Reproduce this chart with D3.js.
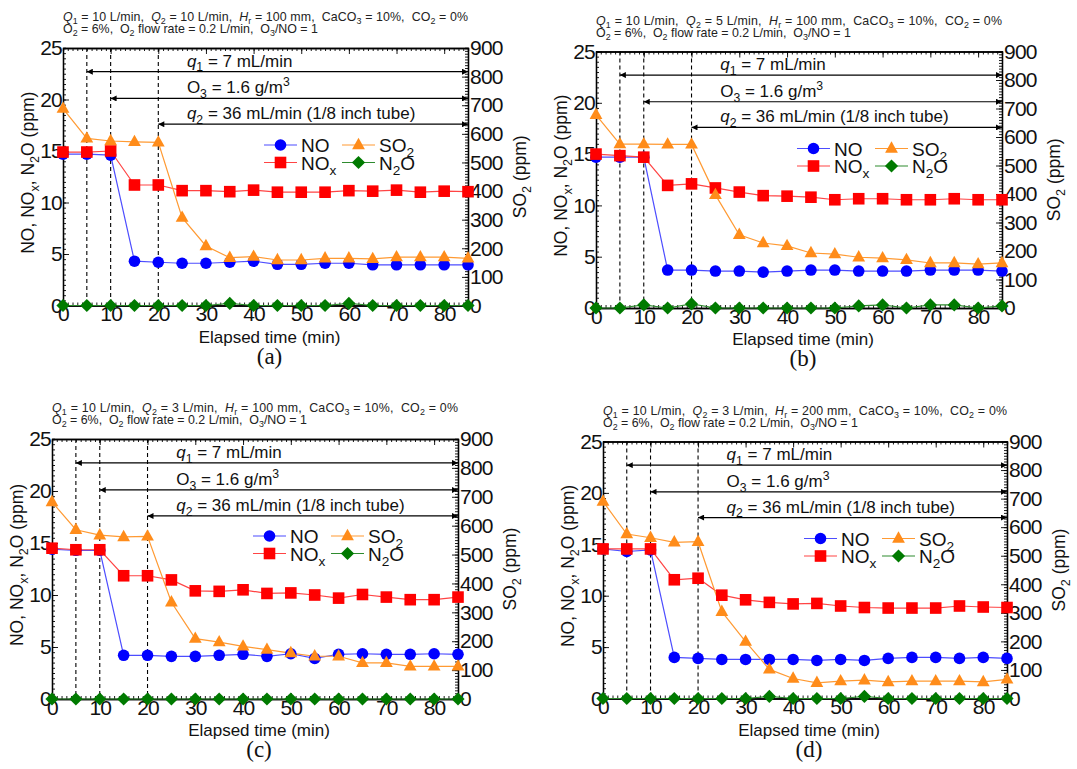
<!DOCTYPE html>
<html>
<head>
<meta charset="utf-8">
<script src="https://cdn.jsdelivr.net/npm/d3@7"></script>
<style>
  body { margin: 0; background: #fff; }
  svg { font-family: "Liberation Sans", Arial, sans-serif; }
  text { white-space: pre; }
</style>
</head>
<body>
<div id="chart"></div>
<script>
// elapsed time (min)
var times = [0, 5, 10, 15, 20, 25, 30, 35, 40, 45, 50, 55, 60, 65, 70, 75, 80, 85];

// panel (a)
var noA  = [14.7, 14.7, 14.6, 4.3, 4.2, 4.1, 4.1, 4.2, 4.3, 4.0, 4.0, 4.1, 4.1, 3.95, 3.95, 3.95, 3.95, 3.95];
var noxA = [14.9, 14.9, 15.0, 11.7, 11.7, 11.15, 11.15, 11.05, 11.2, 11.0, 11.0, 11.0, 11.15, 11.1, 11.2, 11.0, 11.1, 11.05];
var so2A = [688, 584, 575, 572, 570, 307, 208, 167, 171, 159, 159, 165, 165, 163, 169, 169, 169, 165];
var n2oA = [0, 0, 0, 0, 0, 0, 0, 0.2, 0, 0, 0, 0, 0.2, 0, 0, 0, 0, 0];

// panel (b)
var noB  = [14.7, 14.7, 14.7, 3.7, 3.7, 3.6, 3.6, 3.5, 3.6, 3.7, 3.7, 3.6, 3.6, 3.6, 3.7, 3.7, 3.7, 3.6];
var noxB = [15.0, 14.85, 14.7, 11.95, 12.1, 11.7, 11.3, 10.95, 10.9, 10.8, 10.55, 10.65, 10.65, 10.55, 10.55, 10.65, 10.55, 10.55];
var so2B = [678, 575, 575, 574, 574, 397, 257, 228, 218, 193, 189, 178, 175, 169, 158, 158, 154, 158];
var n2oB = [0, 0, 0.3, 0, 0.4, 0, 0, 0, 0, 0, 0, 0.2, 0.3, 0, 0.3, 0.3, 0, 0.2];

// panel (c)
var noC  = [14.4, 14.3, 14.3, 4.2, 4.2, 4.1, 4.1, 4.2, 4.3, 4.1, 4.35, 3.9, 4.3, 4.35, 4.3, 4.3, 4.35, 4.3];
var noxC = [14.5, 14.35, 14.35, 11.85, 11.85, 11.45, 10.4, 10.35, 10.5, 10.15, 10.2, 10.0, 9.7, 10.05, 9.8, 9.55, 9.55, 9.8];
var so2C = [682, 586, 567, 561, 563, 335, 209, 197, 182, 171, 159, 148, 148, 125, 125, 113, 113, 113];
var n2oC = [0, 0, 0, 0, 0, 0, 0, 0, 0, 0, 0, 0, 0, 0, 0, 0, 0, 0];

// panel (d)
var noD  = [14.55, 14.3, 14.45, 4.0, 3.9, 3.8, 3.8, 3.8, 3.8, 3.7, 3.8, 3.7, 3.9, 4.0, 4.0, 3.9, 4.0, 3.9];
var noxD = [14.55, 14.55, 14.55, 11.55, 11.7, 10.05, 9.6, 9.35, 9.2, 9.25, 9.0, 8.85, 8.8, 8.8, 8.8, 9.0, 8.9, 8.85];
var so2D = [690, 576, 563, 547, 549, 304, 199, 102, 70, 55, 61, 64, 58, 61, 61, 61, 58, 67];
var n2oD = [0, 0, 0, 0, 0, 0, 0, 0.2, 0, 0, 0, 0.2, 0, 0, 0, 0, 0, 0];

var panelLabels = ["(a)", "(b)", "(c)", "(d)"];
var headerLine1 = [
    "*Q*_{1} = 10 L/min,  *Q*_{2} = 10 L/min,  *H*_{r} = 100 mm,  CaCO_{3} = 10%,  CO_{2} = 0%",
    "*Q*_{1} = 10 L/min,  *Q*_{2} = 5 L/min,  *H*_{r} = 100 mm,  CaCO_{3} = 10%,  CO_{2} = 0%",
    "*Q*_{1} = 10 L/min,  *Q*_{2} = 3 L/min,  *H*_{r} = 100 mm,  CaCO_{3} = 10%,  CO_{2} = 0%",
    "*Q*_{1} = 10 L/min,  *Q*_{2} = 3 L/min,  *H*_{r} = 200 mm,  CaCO_{3} = 10%,  CO_{2} = 0%"
];
var headerLine2 = "O_{2} = 6%,  O_{2} flow rate = 0.2 L/min,  O_{3}/NO = 1";

// flow annotations: start time, arrow level (left axis ppm), label
var arrowStarts = [5, 10, 20];
var arrowLevels = [22.7, 20.1, 17.6];
var arrowLabels = ["*q*_{1} = 7 mL/min", "O_{3} = 1.6 g/m^{3}", "*q*_{2} = 36 mL/min (1/8 inch tube)"];

var leftTicks = [0, 5, 10, 15, 20, 25];
var rightTicks = [0, 100, 200, 300, 400, 500, 600, 700, 800, 900];
var timeTicks = [0, 10, 20, 30, 40, 50, 60, 70, 80];

var seriesNames = ["NO", "NO_{x}", "SO_{2}", "N_{2}O"];

var panelData = [
    [noA, noxA, so2A, n2oA],
    [noB, noxB, so2B, n2oB],
    [noC, noxC, so2C, n2oC],
    [noD, noxD, so2D, n2oD]
];

// plot boxes of the four panels
var boxes = [
    { left: 63, top: 48, right: 468, bottom: 305.5 },
    { left: 596, top: 51.5, right: 1002, bottom: 308 },
    { left: 52, top: 439, right: 458, bottom: 699 },
    { left: 603, top: 441.5, right: 1007, bottom: 698.5 }
];

var styles = [
    { marker: "#0000ff", line: "#4d4dff", shape: "circle" },
    { marker: "#ff0000", line: "#ff4444", shape: "square" },
    { marker: "#ff8c1a", line: "#ff9a33", shape: "triangle" },
    { marker: "#007a00", line: "#2e8b2e", shape: "diamond" }
];

var svg = d3.select("#chart").append("svg")
    .attr("width", 1077)
    .attr("height", 769);

svg.append("rect").attr("width", 1077).attr("height", 769).attr("fill", "#fff");

var defs = svg.append("defs");
defs.append("marker")
    .attr("id", "arrowhead")
    .attr("viewBox", "0 0 10 10")
    .attr("refX", 10).attr("refY", 5)
    .attr("markerWidth", 11).attr("markerHeight", 6)
    .attr("markerUnits", "userSpaceOnUse")
    .attr("orient", "auto-start-reverse")
    .append("path")
    .attr("d", "M0,0 L10,5 L0,10 Z")
    .attr("fill", "#000");

// text with *italic*, _{sub} and ^{sup}
function richText(sel, str, size) {
    var parts = str.split(/(\*[^*]+\*|_\{[^}]*\}|\^\{[^}]*\})/).filter(function (s) { return s.length; });
    var shift = 0;
    parts.forEach(function (p) {
        var t = sel.append("tspan");
        var target = 0, fs = size;
        if (p[0] === "*") {
            t.attr("font-style", "italic");
            p = p.slice(1, -1);
        } else if (p[0] === "_") {
            target = 0.28 * size; fs = size * 0.72; p = p.slice(2, -1);
        } else if (p[0] === "^") {
            target = -0.42 * size; fs = size * 0.72; p = p.slice(2, -1);
        }
        t.attr("dy", target - shift).attr("font-size", fs).text(p);
        shift = target;
    });
}

function drawMarker(g, shape, color) {
    if (shape === "circle") {
        g.append("circle").attr("r", 5.8).attr("fill", color);
    } else if (shape === "square") {
        g.append("rect").attr("x", -5.8).attr("y", -5.8).attr("width", 11.6).attr("height", 11.6).attr("fill", color);
    } else if (shape === "triangle") {
        g.append("path").attr("d", "M0,-7.2 L6.4,4.2 L-6.4,4.2 Z").attr("fill", color);
    } else {
        g.append("path").attr("d", "M0,-6.6 L6.6,0 L0,6.6 L-6.6,0 Z").attr("fill", color);
    }
}

function drawPanel(i) {
    var b = boxes[i];
    var w = b.right - b.left, h = b.bottom - b.top;
    var g = svg.append("g").attr("transform", "translate(" + b.left + "," + b.top + ")");

    var x = d3.scaleLinear().domain([0, 85]).range([0, w]);
    var yL = d3.scaleLinear().domain([0, 25]).range([h, 0]);
    var yR = d3.scaleLinear().domain([0, 900]).range([h, 0]);

    // header conditions
    var hdr = g.append("g").attr("fill", "#222");
    richText(hdr.append("text").attr("x", 0).attr("y", -27).attr("textLength", w).attr("lengthAdjust", "spacing"), headerLine1[i], 12.4);
    richText(hdr.append("text").attr("x", 0).attr("y", -15), headerLine2, 12.4);

    // minor ticks
    var minor = g.append("g").attr("class", "minor");
    minor.append("g").call(d3.axisLeft(yL).tickValues(d3.range(0, 25.01, 0.5)).tickSize(-3).tickFormat(""));
    minor.append("g").attr("transform", "translate(" + w + ",0)")
        .call(d3.axisRight(yR).tickValues(d3.range(0, 901, 10)).tickSize(-3).tickFormat(""));
    minor.append("g").attr("transform", "translate(0," + h + ")")
        .call(d3.axisBottom(x).tickValues(d3.range(0, 86, 1)).tickSize(-3).tickFormat(""));
    minor.append("g").call(d3.axisTop(x).tickValues(d3.range(0, 86, 1)).tickSize(-3).tickFormat(""));

    // major axes
    var axL = g.append("g").call(d3.axisLeft(yL).tickValues(leftTicks).tickSize(-6).tickSizeOuter(0).tickPadding(1));
    var axR = g.append("g").attr("transform", "translate(" + w + ",0)")
        .call(d3.axisRight(yR).tickValues(rightTicks).tickSize(-6).tickSizeOuter(0).tickPadding(2));
    var axB = g.append("g").attr("transform", "translate(0," + h + ")")
        .call(d3.axisBottom(x).tickValues(timeTicks).tickSize(-6).tickSizeOuter(0).tickPadding(1));
    g.append("g")
        .call(d3.axisTop(x).tickValues(timeTicks).tickSize(-6).tickSizeOuter(0).tickFormat(""));

    g.selectAll(".domain").attr("stroke", "#000").attr("stroke-width", 1.3);
    g.selectAll(".tick line").attr("stroke", "#000").attr("stroke-width", 0.9);
    [axL, axR, axB].forEach(function (ax) {
        ax.selectAll("text").attr("font-size", 21).attr("fill", "#111")
            .attr("font-family", "Liberation Sans, Arial, sans-serif")
            .attr("letter-spacing", -0.8);
    });

    // dashed markers of flow changes
    g.selectAll(".vdash").data(arrowStarts).enter().append("line")
        .attr("x1", function (d) { return x(d); }).attr("x2", function (d) { return x(d); })
        .attr("y1", 0).attr("y2", h)
        .attr("stroke", "#000").attr("stroke-width", 1.1).attr("stroke-dasharray", "4,3");

    // arrows and labels
    arrowStarts.forEach(function (s, k) {
        var yy = yL(arrowLevels[k]);
        g.append("line")
            .attr("x1", x(s)).attr("x2", x(85))
            .attr("y1", yy).attr("y2", yy)
            .attr("stroke", "#000").attr("stroke-width", 1.2)
            .attr("marker-start", "url(#arrowhead)").attr("marker-end", "url(#arrowhead)");
        richText(g.append("text").attr("x", x(26)).attr("y", yy - 5).attr("fill", "#111"), arrowLabels[k], 17);
    });

    // data
    var yScales = [yL, yL, yR, yL];
    panelData[i].forEach(function (vals, k) {
        var pts = times.map(function (t, j) { return [x(t), yScales[k](vals[j])]; });
        g.append("path")
            .attr("d", d3.line()(pts))
            .attr("fill", "none")
            .attr("stroke", styles[k].line)
            .attr("stroke-width", 1.2);
    });
    panelData[i].forEach(function (vals, k) {
        times.forEach(function (t, j) {
            var m = g.append("g").attr("transform", "translate(" + x(t) + "," + yScales[k](vals[j]) + ")");
            drawMarker(m, styles[k].shape, styles[k].marker);
        });
    });

    // legend
    var lg = g.append("g").attr("transform", "translate(201,97)");
    var cols = [[0, 0], [0, 17.5], [78, 0], [78, 17.5]];
    seriesNames.forEach(function (name, k) {
        var e = lg.append("g").attr("transform", "translate(" + cols[k][0] + "," + cols[k][1] + ")");
        e.append("line").attr("x1", 0).attr("x2", 33).attr("stroke", styles[k].line).attr("stroke-width", 1.2);
        drawMarker(e.append("g").attr("transform", "translate(16.5,0)"), styles[k].shape, styles[k].marker);
        richText(e.append("text").attr("x", 37).attr("y", 7).attr("fill", "#111"), name, 19);
    });

    // axis titles
    g.append("text")
        .attr("x", w / 2 + 4).attr("y", h + 37)
        .attr("text-anchor", "middle").attr("font-size", 17).attr("fill", "#111")
        .text("Elapsed time (min)");
    var lt = g.append("text")
        .attr("transform", "translate(-29," + (h / 2 - 4) + ") rotate(-90)")
        .attr("text-anchor", "middle").attr("fill", "#111");
    richText(lt, "NO, NO_{x}, N_{2}O (ppm)", 17.5);
    var rt = g.append("text")
        .attr("transform", "translate(" + (w + 58) + "," + (h / 2) + ") rotate(-90)")
        .attr("text-anchor", "middle").attr("fill", "#111");
    richText(rt, "SO_{2} (ppm)", 17.5);

    // panel label
    g.append("text")
        .attr("x", w / 2 + 4).attr("y", h + 58)
        .attr("text-anchor", "middle")
        .attr("font-family", "Liberation Serif, Times New Roman, serif")
        .attr("font-size", 23).attr("fill", "#111")
        .text(panelLabels[i]);
}

for (var i = 0; i < 4; i++) drawPanel(i);
</script>
</body>
</html>
